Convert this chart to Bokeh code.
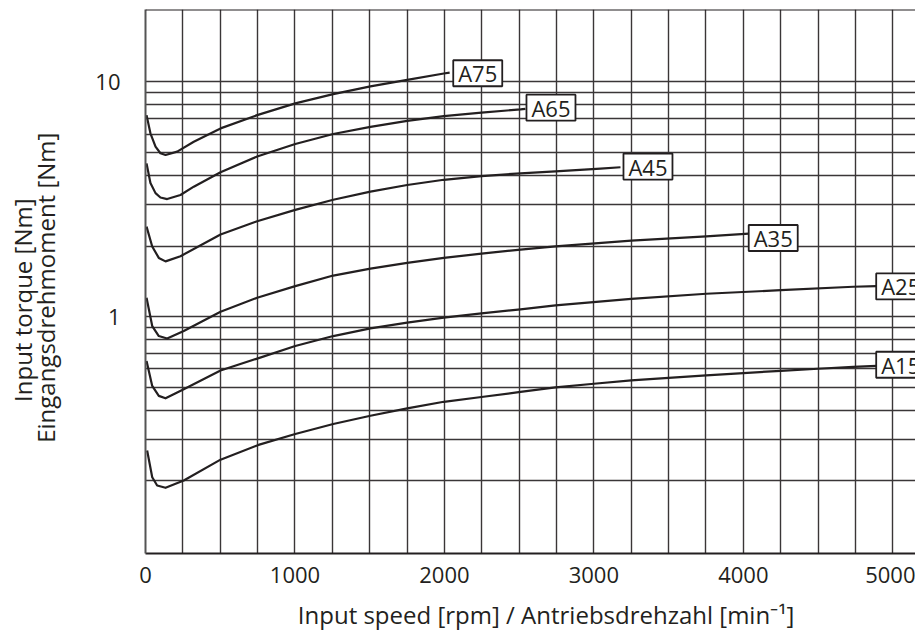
from bokeh.plotting import figure
from bokeh.models import Range1d, FixedTicker, NumeralTickFormatter, Span
from bokeh.core.properties import value
from bokeh.embed import file_html
from bokeh.resources import INLINE

# ---- data ----
a75_x = [7, 33, 67, 100, 134, 212, 323, 502, 747, 1002, 1256, 1505, 1751, 1996, 2035]
a75_y = [7.22, 6.04, 5.30, 4.97, 4.886, 5.05, 5.56, 6.34, 7.22, 8.10, 8.87, 9.57, 10.21, 10.86, 10.95]

a65_x = [7, 33, 67, 100, 145, 234, 323, 502, 747, 1002, 1256, 1505, 1751, 1996, 2248, 2509, 2542]
a65_y = [4.50, 3.71, 3.36, 3.22, 3.17, 3.30, 3.58, 4.12, 4.81, 5.44, 6.00, 6.44, 6.83, 7.15, 7.40, 7.64, 7.68]

a45_x = [7, 45, 89, 134, 234, 502, 747, 1002, 1256, 1505, 1751, 1996, 2248, 2509, 2743, 3044, 3178]
a45_y = [2.42, 1.99, 1.78, 1.72, 1.81, 2.24, 2.55, 2.85, 3.15, 3.41, 3.64, 3.83, 3.97, 4.08, 4.16, 4.27, 4.33]

a35_x = [7, 45, 89, 145, 256, 502, 747, 1002, 1256, 1505, 1751, 1996, 2248, 2509, 2743, 3250, 3752, 4037]
a35_y = [1.204, 0.912, 0.827, 0.807, 0.869, 1.05, 1.204, 1.349, 1.497, 1.603, 1.695, 1.78, 1.857, 1.93, 1.994, 2.11, 2.20, 2.26]

a25_x = [7, 45, 89, 134, 256, 502, 747, 1002, 1256, 1505, 1751, 1996, 2248, 2509, 2743, 3250, 3752, 4251, 4735, 4891]
a25_y = [0.648, 0.507, 0.460, 0.449, 0.491, 0.59, 0.663, 0.750, 0.827, 0.892, 0.943, 0.99, 1.033, 1.074, 1.117, 1.192, 1.252, 1.297, 1.341, 1.349]

a15_x = [11, 45, 78, 134, 256, 502, 756, 1002, 1256, 1505, 1751, 1996, 2248, 2509, 2743, 3000, 3250, 3500, 3752, 4000, 4251, 4500, 4735, 4891]
a15_y = [0.269, 0.207, 0.191, 0.1867, 0.2005, 0.246, 0.2843, 0.3165, 0.349, 0.3786, 0.407, 0.434, 0.455, 0.478, 0.500, 0.518, 0.535, 0.549, 0.562, 0.575, 0.588, 0.600, 0.611, 0.617]

label_names = ["A75", "A65", "A45", "A35", "A25", "A15"]
label_x = [2223, 2713, 3362, 4200, 5053, 5053]
label_y = [10.89, 7.77, 4.36, 2.164, 1.345, 0.624]

x_ticks = [0, 1000, 2000, 3000, 4000, 5000]
x_grid = [250 * i for i in range(1, 21)]
y_ticks = [1, 10]
y_grid = [0.2, 0.3, 0.4, 0.5, 0.6, 0.7, 0.8, 0.9, 1, 2, 3, 4, 5, 6, 7, 8, 9, 10]

NB = "\u00a0"
x_title = NB * 5 + "Input speed [rpm] / Antriebsdrehzahl [min\u207b\u00b9]"
y_title = "Input torque [Nm]" + NB * 6 + "\nEingangsdrehmoment [Nm]" + NB * 2

INK = "#231f20"
GRID = "#3a3637"
FONT = "Open Sans"

p = figure(width=915, height=633, y_axis_type="log",
           x_range=Range1d(0, 5152), y_range=Range1d(0.098, 20.35),
           output_backend="svg", toolbar_location=None,
           min_border_left=145, min_border_right=0, min_border_top=9, min_border_bottom=78)
p.outline_line_color = None
p.background_fill_color = "white"

# grid
p.xgrid.ticker = FixedTicker(ticks=x_grid)
p.ygrid.ticker = FixedTicker(ticks=y_grid)
for g in (p.xgrid, p.ygrid):
    g.grid_line_color = GRID
    g.grid_line_width = 1.4
    g.minor_grid_line_color = None

# axes
p.xaxis.ticker = FixedTicker(ticks=x_ticks)
p.yaxis.ticker = FixedTicker(ticks=y_ticks)
p.yaxis.formatter = NumeralTickFormatter(format="0")
for ax in (p.xaxis, p.yaxis):
    ax.major_tick_line_color = None
    ax.minor_tick_line_color = None
    ax.major_tick_out = 0
    ax.major_tick_in = 0
    ax.major_label_text_font = FONT
    ax.major_label_text_font_size = "22px"
    ax.major_label_text_color = INK
    ax.axis_line_color = INK
    ax.axis_line_width = 2
    ax.axis_label_text_font = FONT
    ax.axis_label_text_font_style = "normal"
    ax.axis_label_text_color = INK
p.xaxis.major_label_standoff = 13
p.yaxis.major_label_standoff = 25
p.yaxis.axis_line_color = "#555555"

p.yaxis.axis_label = y_title
p.yaxis.axis_label_text_font_size = "24px"
p.yaxis.axis_label_text_line_height = 0.72
p.yaxis.axis_label_standoff = 30

p.xaxis.axis_label = x_title
p.xaxis.axis_label_text_font_size = "24px"
p.xaxis.axis_label_text_line_height = 0.6
p.xaxis.axis_label_standoff = 12

# top border of the frame
p.add_layout(Span(location=p.y_range.end, dimension="width", line_color=INK, line_width=2))

# curves
for xs, ys in ((a75_x, a75_y), (a65_x, a65_y), (a45_x, a45_y),
               (a35_x, a35_y), (a25_x, a25_y), (a15_x, a15_y)):
    p.line(xs, ys, line_color=INK, line_width=2.2, line_join="round")

# label boxes
p.rect(x=label_x, y=label_y, width=49, height=26, width_units="screen", height_units="screen",
       fill_color="white", line_color=INK, line_width=1.8)
p.text(x=label_x, y=label_y, text=label_names, text_align="center", text_baseline="middle",
       text_font=value(FONT), text_font_size="22px", text_color=INK)

open("out.html", "w").write(file_html(p, INLINE))
